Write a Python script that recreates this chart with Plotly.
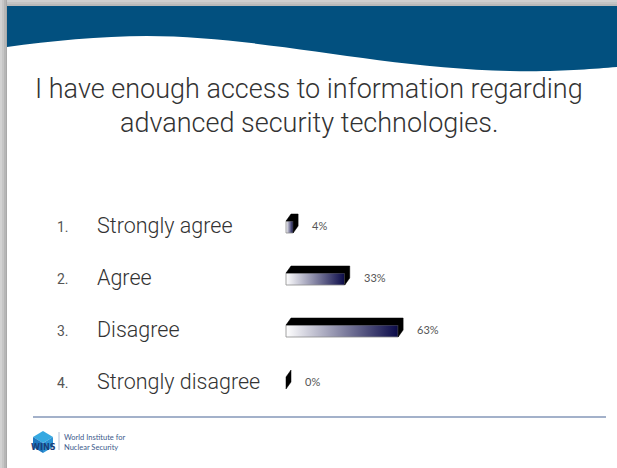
import plotly.graph_objects as go

# ---------------- data ----------------
categories = ["Strongly agree", "Agree", "Disagree", "Strongly disagree"]
numbers = ["1.", "2.", "3.", "4."]
percent = [4, 33, 63, 0]
percent_labels = ["4%", "33%", "63%", "0%"]
title_lines = ["I have enough access to information regarding",
               "advanced security technologies."]
footer_lines = ["World Institute for", "Nuclear Security"]
logo_text = "WINS"

# ---------------- geometry / style ----------------
W, H = 617, 468
K = 1.78          # pixels per percent
X0 = 286          # pixel position of 0 %
ROW0 = 227        # pixel centre of first row
ROWGAP = 52       # pixels between rows

FONT = "Roboto"
BLUE = "#02507f"


def px(x, y):
    return x / W, 1 - y / H


fig = go.Figure()

half = 6 / ROWGAP
dy = 7 / ROWGAP
dx = 5 / K

for i, v in enumerate(percent):
    ytop, ybot = i - half, i + half
    if v > 0:
        fig.add_trace(go.Scatter(
            x=[0, v, v, 0, 0], y=[ybot, ybot, ytop, ytop, ybot],
            mode="lines", fill="toself",
            line=dict(color="#8c8c8c", width=0.8),
            fillgradient=dict(type="horizontal",
                              colorscale=[[0, "#ffffff"], [1, "#0a0a48"]]),
            hoverinfo="skip", showlegend=False))
    fig.add_trace(go.Scatter(
        x=[0, dx, v + dx, v + dx, v, v, 0],
        y=[ytop, ytop - dy, ytop - dy, ybot - dy, ybot, ytop, ytop],
        mode="lines", fill="toself", fillcolor="#000000",
        line=dict(color="#000000", width=0.5),
        hoverinfo="skip", showlegend=False))

annotations = []
for i, (num, cat, v, lab) in enumerate(zip(numbers, categories, percent, percent_labels)):
    annotations.append(dict(x=55 / W, xref="paper", y=i, yref="y", yshift=0,
                            text=num, showarrow=False, xanchor="left", yanchor="middle",
                            font=dict(family=FONT, size=14, color="#555555")))
    annotations.append(dict(x=95 / W, xref="paper", y=i, yref="y", yshift=2,
                            text=cat, showarrow=False, xanchor="left", yanchor="middle",
                            font=dict(family=FONT, size=21.5, color="#333333", weight=300)))
    annotations.append(dict(x=v, xref="x", y=i, yref="y", xshift=17, yshift=2,
                            text=lab, showarrow=False, xanchor="left", yanchor="middle",
                            font=dict(family="Lato", size=11, color="#555555")))

for j, (line, yc) in enumerate(zip(title_lines, [89, 123])):
    xx, yy = px(309, yc)
    annotations.append(dict(x=xx, y=yy, xref="paper", yref="paper", text=line,
                            showarrow=False, xanchor="center", yanchor="middle",
                            font=dict(family=FONT, size=27, color="#333333", weight=300)))

xx, yy = px(62, 442)
annotations.append(dict(x=xx, y=yy, xref="paper", yref="paper", text="<br>".join(footer_lines),
                        showarrow=False, xanchor="left", yanchor="middle", align="left",
                        font=dict(family="Lato", size=7.5, color="#3c5a8c")))

xx, yy = px(43, 447)
annotations.append(dict(x=xx, y=yy, xref="paper", yref="paper", text="<b>" + logo_text + "</b>",
                        showarrow=False, xanchor="center", yanchor="middle",
                        font=dict(family="Liberation Sans Narrow, DejaVu Sans Condensed", size=9,
                                  color="#1a3f7a")))


def path(points, close=True):
    s = ""
    for k, (x, y) in enumerate(points):
        a, b = px(x, y)
        s += ("M" if k == 0 else "L") + f"{a:.5f},{b:.5f} "
    if close:
        s += "Z"
    return s


def p(x, y):
    a, b = px(x, y)
    return f"{a:.5f},{b:.5f}"


shapes = []
# slide white area
shapes.append(dict(type="rect", xref="paper", yref="paper", layer="below",
                   x0=7 / W, x1=1, y0=0, y1=1 - 6 / H,
                   fillcolor="#ffffff", line=dict(width=0)))
# left shadow band
for (a, b, c) in [(0, 2, "#d2d2d2"), (2, 4, "#c6c6c6"), (4, 6, "#b6b6b6"), (6, 7, "#a9a9a9")]:
    shapes.append(dict(type="rect", xref="paper", yref="paper", layer="below",
                       x0=a / W, x1=b / W, y0=0, y1=1, fillcolor=c, line=dict(width=0)))
# top band
for (a, b, c) in [(0, 2, "#cfcfcf"), (2, 4, "#c4c4c4"), (4, 6, "#b9b9b9")]:
    shapes.append(dict(type="rect", xref="paper", yref="paper", layer="below",
                       x0=7 / W, x1=1, y0=1 - b / H, y1=1 - a / H, fillcolor=c, line=dict(width=0)))

# blue wave header
wave = (f"M{p(7, 6)} L{p(617, 6)} L{p(617, 67)} "
        f"C{p(590, 69)} {p(560, 72)} {p(510, 71)} "
        f"C{p(380, 68)} {p(260, 36)} {p(147, 36)} "
        f"C{p(100, 36)} {p(50, 41)} {p(7, 47)} Z")
shapes.append(dict(type="path", xref="paper", yref="paper", layer="below", path=wave,
                   fillcolor=BLUE, line=dict(width=0)))

# footer rule
shapes.append(dict(type="line", xref="paper", yref="paper", layer="below",
                   x0=33 / W, x1=606 / W, y0=1 - 417 / H, y1=1 - 417 / H,
                   line=dict(color="#8497b8", width=1.5)))

# WINS logo cube
shapes.append(dict(type="path", xref="paper", yref="paper", layer="below",
                   path=path([(33, 437), (43, 431), (53, 437), (43, 443)]),
                   fillcolor="#36a9e1", line=dict(width=0)))
shapes.append(dict(type="path", xref="paper", yref="paper", layer="below",
                   path=path([(33, 437), (43, 443), (43, 453), (33, 447)]),
                   fillcolor="#1f78c1", line=dict(width=0)))
shapes.append(dict(type="path", xref="paper", yref="paper", layer="below",
                   path=path([(43, 443), (53, 437), (53, 447), (43, 453)]),
                   fillcolor="#2c93d5", line=dict(width=0)))
shapes.append(dict(type="line", xref="paper", yref="paper", layer="below",
                   x0=59 / W, x1=59 / W, y0=1 - 432 / H, y1=1 - 450 / H,
                   line=dict(color="#9fb0cc", width=0.8)))

fig.update_layout(
    width=W, height=H, autosize=False,
    margin=dict(l=0, r=0, t=0, b=0, pad=0),
    paper_bgcolor="#c6c6c6", plot_bgcolor="rgba(0,0,0,0)",
    xaxis=dict(range=[-X0 / K, (W - X0) / K], visible=False, fixedrange=True),
    yaxis=dict(range=[(H - ROW0) / ROWGAP, -ROW0 / ROWGAP], visible=False, fixedrange=True),
    shapes=shapes, annotations=annotations, showlegend=False,
)

fig.write_html("out.html", config={"displayModeBar": False})
